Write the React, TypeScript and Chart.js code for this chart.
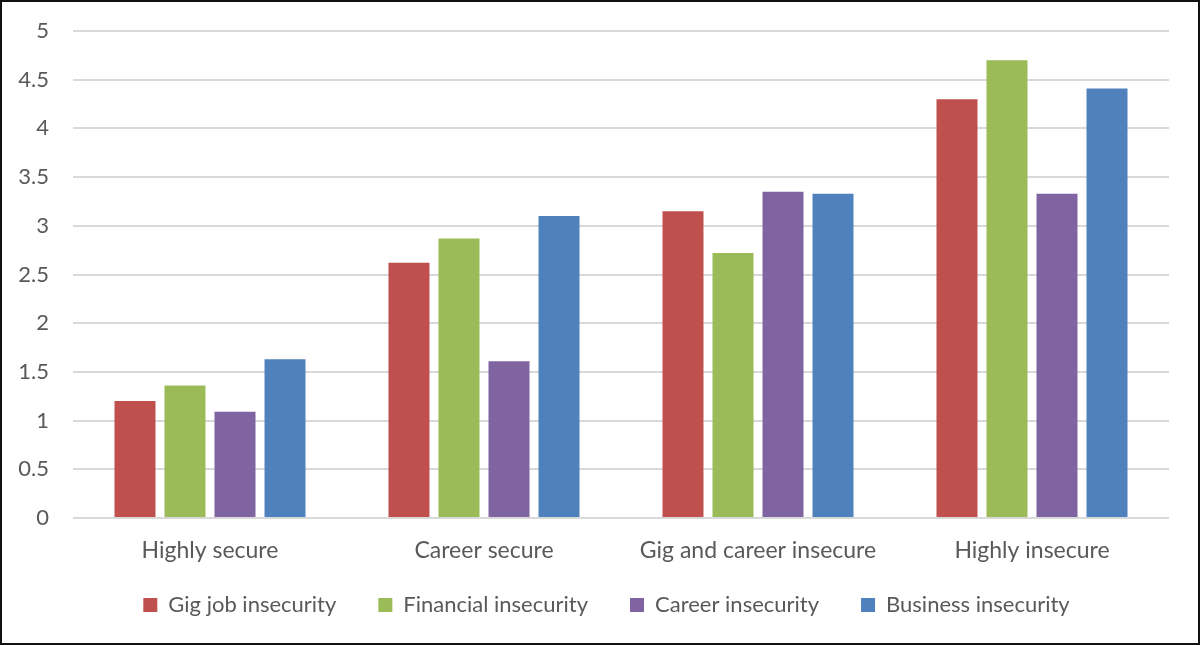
import React, { useEffect, useRef } from "react";
import { Chart, registerables } from "chart.js";

Chart.register(...registerables);

const categories = ["Highly secure", "Career secure", "Gig and career insecure", "Highly insecure"];
const seriesNames = ["Gig job insecurity", "Financial insecurity", "Career insecurity", "Business insecurity"];
const gigJobInsecurity = [1.2, 2.62, 3.15, 4.3];
const financialInsecurity = [1.36, 2.87, 2.72, 4.7];
const careerInsecurity = [1.09, 1.61, 3.35, 3.33];
const businessInsecurity = [1.63, 3.1, 3.33, 4.41];
const seriesColors = ["#C0504D", "#9BBB59", "#8064A2", "#4F81BD"];
const yMin = 0;
const yMax = 5;
const yStep = 0.5;

const FONT = "Lato, 'Open Sans', sans-serif";
const TEXT = "#595959";

export default function App() {
  const ref = useRef<HTMLCanvasElement | null>(null);

  useEffect(() => {
    document.body.style.margin = "0";
    const canvas = ref.current;
    if (!canvas) return;
    const seriesValues = [gigJobInsecurity, financialInsecurity, careerInsecurity, businessInsecurity];
    const chart = new Chart(canvas, {
      type: "bar",
      data: {
        labels: categories,
        datasets: seriesNames.map((name, i) => ({
          label: name,
          data: seriesValues[i],
          backgroundColor: seriesColors[i],
          borderWidth: 0,
          categoryPercentage: 0.73,
          barPercentage: 0.82,
        })),
      },
      options: {
        animation: false,
        responsive: false,
        devicePixelRatio: 1,
        layout: { padding: { top: 0, right: 29, bottom: 17, left: 42 } },
        plugins: {
          tooltip: { enabled: false },
          legend: {
            position: "bottom",
            labels: {
              boxWidth: 14,
              boxHeight: 14,
              padding: 42,
              color: TEXT,
              font: { family: FONT, size: 22 },
            },
          },
        },
        scales: {
          x: {
            grid: { display: false },
            border: { display: false },
            ticks: {
              color: TEXT,
              font: { family: FONT, size: 23 },
              padding: 11,
              maxRotation: 0,
            },
            afterFit: (s: any) => {
              s.height = 34;
              s._computeLabelArea = () => undefined;
            },
          },
          y: {
            min: yMin,
            max: yMax,
            border: { display: false },
            grid: { color: "#D9D9D9", lineWidth: 2, drawTicks: false },
            ticks: {
              stepSize: yStep,
              color: TEXT,
              font: { family: FONT, size: 22 },
              padding: 24,
              callback: (v: any) => String(v),
            },
            afterFit: (s: any) => {
              s.width = 29;
              s.paddingTop = 29;
              s.paddingBottom = 0;
              s._computeLabelArea = () => undefined;
            },
          },
        },
      },
    });
    return () => chart.destroy();
  }, []);

  return (
    <div
      style={{
        position: "fixed",
        left: 0,
        top: 0,
        width: 1200,
        height: 645,
        boxSizing: "border-box",
        border: "2px solid #111",
        background: "#fff",
      }}
    >
      <canvas ref={ref} width={1196} height={641} style={{ display: "block" }} />
    </div>
  );
}
